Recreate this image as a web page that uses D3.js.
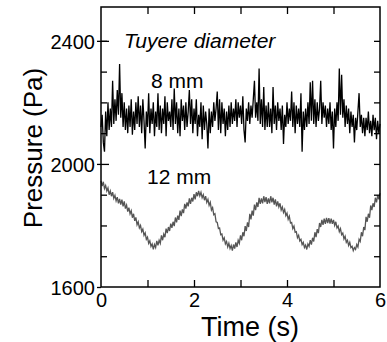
<!DOCTYPE html>
<html>
<head>
<meta charset="utf-8">
<script src="https://cdn.jsdelivr.net/npm/d3@7"></script>
<style>
  body { margin: 0; background: #fff; }
  svg text { font-family: "Liberation Sans", Arial, Helvetica, sans-serif; }
</style>
</head>
<body>
<div id="chart"></div>
<script>
// 시간축: 0 ~ 6 s, 0.025 s 간격 (241 points)
const dt = 0.025;

// 8 mm 풍구 압력 (Pa) - 그림에서 읽은 값
const p8mm = [
  2120, 2160, 2070, 2040,  2170, 2090, 2200, 2110,  2180, 2120, 2270, 2130,  2210, 2140, 2240, 2160,
  2325, 2150, 2230, 2120,  2200, 2110, 2180, 2100,  2190, 2120, 2210, 2095,  2170, 2110, 2200, 2130,
  2220, 2120, 2190, 2100,  2210, 2140, 2050, 2170,  2120, 2230, 2100, 2180,  2130, 2200, 2090, 2170,
  2120, 2230, 2110, 2190,  2100, 2180, 2130, 2220,  2090, 2200, 2140, 2170,  2120, 2210, 2110, 2245,
  2130, 2200, 2100, 2180,  2090, 2210, 2140, 2190,  2110, 2200, 2120, 2170,  2240, 2130, 2210, 2100,
  2180, 2130, 2210, 2090,  2160, 2120, 2200, 2080,  2190, 2110, 2170, 2130,  2050, 2180, 2100, 2170,
  2120, 2200, 2140, 2180,  2235, 2110, 2210, 2100,  2200, 2130, 2180, 2090,  2170, 2110, 2190, 2120,
  2200, 2130, 2180, 2140,  2210, 2120, 2200, 2150,  2190, 2130, 2220, 2110,  2070, 2180, 2140, 2200,
  2130, 2190, 2150, 2210,  2270, 2150, 2200, 2140,  2310, 2130, 2210, 2120,  2250, 2110, 2190, 2120,
  2200, 2120, 2180, 2100,  2250, 2130, 2190, 2110,  2200, 2140, 2180, 2110,  2190, 2065, 2160, 2120,
  2200, 2130, 2180, 2140,  2235, 2120, 2200, 2100,  2190, 2130, 2180, 2120,  2230, 2040, 2170, 2110,
  2180, 2120, 2200, 2130,  2265, 2140, 2270, 2130,  2210, 2120, 2200, 2140,  2180, 2270, 2130, 2200,
  2150, 2190, 2120, 2180,  2130, 2200, 2110, 2170,  2050, 2180, 2120, 2200,  2140, 2310, 2160, 2290,
  2150, 2210, 2120, 2190,  2130, 2180, 2100, 2170,  2120, 2160, 2070, 2150,  2110, 2170, 2230, 2120,
  2160, 2100, 2150, 2090,  2150, 2110, 2170, 2100,  2140, 2090, 2160, 2110,  2150, 2080, 2140, 2100,
  2130
];

// 12 mm 풍구 압력 (Pa)
const p12mm = [
  1945, 1928, 1942, 1920,  1930, 1912, 1922, 1900,  1912, 1895, 1908, 1888,  1898, 1880, 1892, 1872,
  1886, 1868, 1884, 1862,  1878, 1855, 1866, 1845,  1858, 1838, 1848, 1825,  1838, 1815, 1826, 1802,
  1812, 1792, 1800, 1780,  1788, 1768, 1776, 1755,  1762, 1742, 1750, 1732,  1740, 1722, 1738, 1728,
  1750, 1735, 1752, 1742,  1768, 1752, 1772, 1762,  1790, 1775, 1795, 1782,  1806, 1792, 1812, 1798,
  1826, 1810, 1832, 1818,  1848, 1830, 1852, 1840,  1870, 1855, 1875, 1862,  1888, 1870, 1890, 1878,
  1902, 1885, 1908, 1895,  1912, 1896, 1908, 1890,  1900, 1882, 1895, 1875,  1885, 1865, 1875, 1850,
  1858, 1835, 1838, 1812,  1810, 1790, 1792, 1770,  1772, 1752, 1760, 1740,  1748, 1730, 1742, 1725,
  1735, 1718, 1738, 1725,  1745, 1730, 1752, 1742,  1768, 1752, 1778, 1765,  1798, 1782, 1810, 1795,
  1838, 1820, 1848, 1832,  1868, 1850, 1875, 1860,  1890, 1870, 1888, 1872,  1895, 1876, 1892, 1870,
  1888, 1872, 1895, 1875,  1890, 1868, 1885, 1862,  1878, 1860, 1872, 1850,  1860, 1842, 1852, 1832,
  1840, 1820, 1830, 1808,  1810, 1790, 1798, 1778,  1780, 1760, 1768, 1750,  1755, 1738, 1745, 1728,
  1736, 1722, 1740, 1732,  1752, 1738, 1760, 1748,  1778, 1762, 1788, 1775,  1808, 1795, 1818, 1802,
  1822, 1805, 1825, 1808,  1824, 1806, 1822, 1805,  1818, 1800, 1812, 1792,  1798, 1780, 1790, 1770,
  1775, 1756, 1765, 1745,  1752, 1735, 1745, 1728,  1732, 1718, 1728, 1722,  1738, 1730, 1755, 1748,
  1778, 1765, 1795, 1785,  1828, 1812, 1838, 1825,  1865, 1850, 1872, 1860,  1890, 1875, 1898, 1885,
  1905
];

const xMajor = [0, 2, 4, 6];
const xMinor = [1, 2, 3, 4, 5];
const yMajor = [1600, 2000, 2400];
const yMinor = [1700, 1800, 1900, 2100, 2200, 2300, 2400];

const width = 387, height = 342;
const mLeft = 101, mRight = 380, mTop = 7, mBottom = 287;

const svg = d3.select("#chart").append("svg")
    .attr("width", width)
    .attr("height", height);

const x = d3.scaleLinear().domain([0, 6]).range([mLeft, mRight]);
const y = d3.scaleLinear().domain([1600, 2510]).range([mBottom, mTop]);
const fmt = d3.format("d");

// 데이터 선
const line = d3.line()
    .x((d, i) => x(i * dt))
    .y(d => y(d));

svg.append("path")
    .datum(p12mm)
    .attr("fill", "none")
    .attr("stroke", "#555")
    .attr("stroke-width", 1.3)
    .attr("d", line);

svg.append("path")
    .datum(p8mm)
    .attr("fill", "none")
    .attr("stroke", "#000")
    .attr("stroke-width", 1.3)
    .attr("d", line);

// 축 (눈금은 안쪽으로)
function styleAxis(g) {
    g.select(".domain").remove();
    g.selectAll(".tick line").attr("stroke", "#000").attr("stroke-width", 1.3);
}

// 왼쪽: 주눈금 + 라벨
svg.append("g")
    .attr("transform", `translate(${mLeft},0)`)
    .call(d3.axisLeft(y).tickValues(yMajor).tickSize(4).tickPadding(2).tickFormat(fmt))
    .call(styleAxis)
    .call(g => g.selectAll(".tick text")
        .attr("fill", "#000").style("font-size", "20px").attr("dy", "0.36em"));

svg.append("g")
    .attr("transform", `translate(${mLeft},0)`)
    .call(d3.axisLeft(y).tickValues(yMajor.slice(1)).tickSize(-8).tickFormat(""))
    .call(styleAxis);

svg.append("g")
    .attr("transform", `translate(${mLeft},0)`)
    .call(d3.axisLeft(y).tickValues(yMinor).tickSize(-6).tickFormat(""))
    .call(styleAxis);

// 오른쪽
svg.append("g")
    .attr("transform", `translate(${mRight},0)`)
    .call(d3.axisRight(y).tickValues(yMinor.concat([2000])).tickSize(-6).tickFormat(""))
    .call(styleAxis);

// 아래쪽
svg.append("g")
    .attr("transform", `translate(0,${mBottom})`)
    .call(d3.axisBottom(x).tickValues(xMajor).tickSize(0).tickPadding(6).tickFormat(fmt))
    .call(styleAxis)
    .call(g => g.selectAll(".tick text")
        .attr("fill", "#000").style("font-size", "20px").attr("dy", "0.72em"));

svg.append("g")
    .attr("transform", `translate(0,${mBottom})`)
    .call(d3.axisBottom(x).tickValues(xMinor).tickSize(-7).tickFormat(""))
    .call(styleAxis);

// 위쪽
svg.append("g")
    .attr("transform", `translate(0,${mTop})`)
    .call(d3.axisTop(x).tickValues(xMinor).tickSize(-7).tickFormat(""))
    .call(styleAxis);

// 테두리
svg.append("rect")
    .attr("x", mLeft).attr("y", mTop)
    .attr("width", mRight - mLeft).attr("height", mBottom - mTop)
    .attr("fill", "none")
    .attr("stroke", "#000")
    .attr("stroke-width", 1.5);

// 텍스트
svg.append("text")
    .attr("x", 124).attr("y", 48)
    .style("font-size", "21px")
    .style("font-style", "italic")
    .text("Tuyere diameter");

svg.append("text")
    .attr("x", 151).attr("y", 88)
    .style("font-size", "21px")
    .text("8 mm");

svg.append("text")
    .attr("x", 147).attr("y", 184)
    .style("font-size", "21px")
    .text("12 mm");

svg.append("text")
    .attr("x", 250).attr("y", 336)
    .attr("text-anchor", "middle")
    .style("font-size", "27px")
    .text("Time (s)");

svg.append("text")
    .attr("transform", "translate(42,148) rotate(-90)")
    .attr("text-anchor", "middle")
    .style("font-size", "26px")
    .text("Pressure (Pa)");
</script>
</body>
</html>
